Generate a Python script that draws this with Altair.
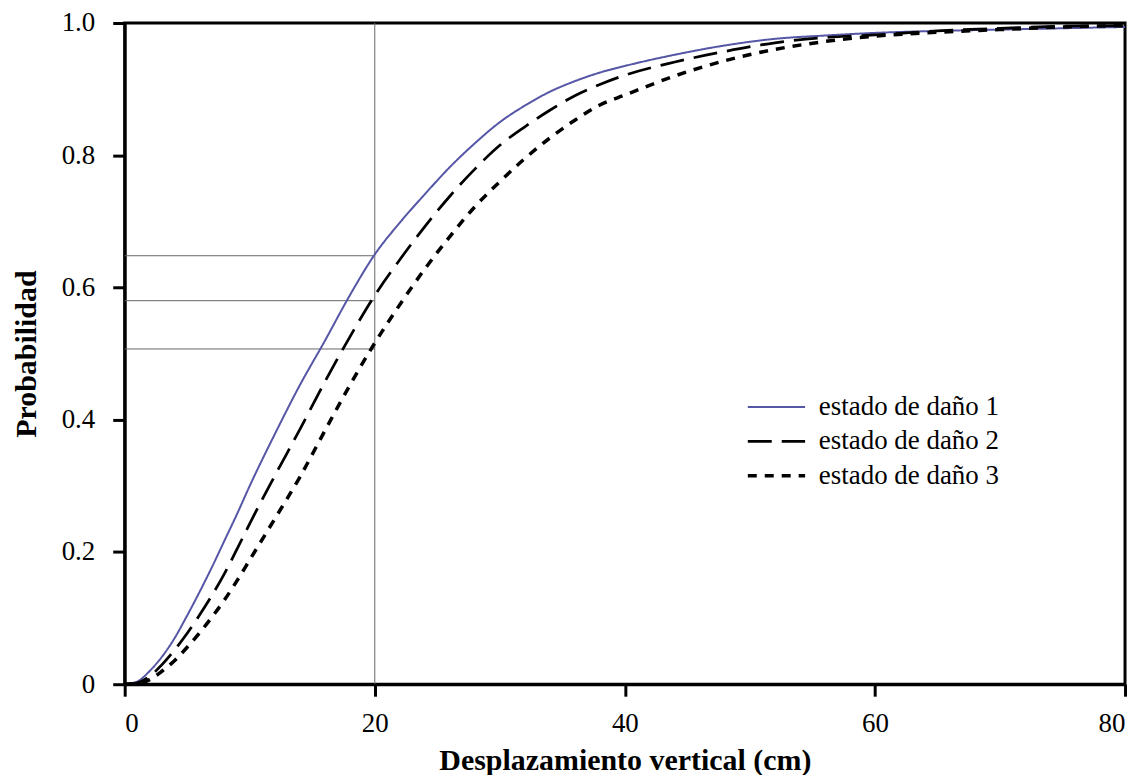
import altair as alt
import pandas as pd

# displacement (cm)
x_cm = [0, 1, 2, 3, 4, 5, 6, 7, 8, 9, 10, 12, 14, 16, 18, 20, 22, 24, 26, 28, 30,
        32, 34, 36, 38, 40, 44, 48, 52, 56, 60, 65, 70, 75, 80]
# damage state 1 (blue solid)
p1 = [0, 0.004, 0.02, 0.042, 0.07, 0.104, 0.14, 0.178, 0.218, 0.258, 0.300, 0.378, 0.452,
      0.519, 0.588, 0.65, 0.698, 0.741, 0.782, 0.818, 0.85, 0.875, 0.896, 0.912, 0.925,
      0.935, 0.952, 0.966, 0.976, 0.981, 0.985, 0.988, 0.990, 0.992, 0.994]
# damage state 2 (long dash)
p2 = [0, 0.002, 0.012, 0.03, 0.052, 0.077, 0.105, 0.135, 0.168, 0.205, 0.243, 0.315, 0.385,
      0.457, 0.525, 0.588, 0.642, 0.692, 0.738, 0.779, 0.815, 0.843, 0.868, 0.89, 0.907,
      0.921, 0.941, 0.957, 0.97, 0.978, 0.982, 0.988, 0.992, 0.995, 0.996]
# damage state 3 (short dash)
p3 = [0, 0.001, 0.007, 0.02, 0.036, 0.056, 0.078, 0.102, 0.128, 0.157, 0.188, 0.25, 0.313,
      0.383, 0.452, 0.516, 0.574, 0.628, 0.677, 0.722, 0.76, 0.795, 0.826, 0.853, 0.876,
      0.891, 0.92, 0.943, 0.96, 0.972, 0.98, 0.986, 0.99, 0.994, 0.996]

series = ["estado de daño 1", "estado de daño 2", "estado de daño 3"]

# reference lines
ref_x = 20
ref_p = [0.648, 0.58, 0.507]

rows = []
for name, vals in zip(series, [p1, p2, p3]):
    for xv, yv in zip(x_cm, vals):
        rows.append({"x": xv, "p": yv, "serie": name})
df = pd.DataFrame(rows)

FONT = "Liberation Serif"

xscale = alt.Scale(domain=[0, 80], nice=False, zero=False)
yscale = alt.Scale(domain=[0, 1], nice=False)

vline = alt.Chart(pd.DataFrame({"x": [ref_x], "y": [0], "y2": [1]})).mark_rule(
    color="#666666", strokeWidth=1
).encode(
    x=alt.X("x:Q", scale=xscale),
    y=alt.Y("y:Q", scale=yscale),
    y2="y2:Q",
)

hlines = alt.Chart(pd.DataFrame({"p": ref_p, "x0": [0] * 3, "x1": [ref_x] * 3})).mark_rule(
    color="#666666", strokeWidth=1
).encode(
    x=alt.X("x0:Q", scale=xscale),
    x2="x1:Q",
    y=alt.Y("p:Q", scale=yscale),
)

lines = alt.Chart(df).mark_line(interpolate="monotone").encode(
    x=alt.X("x:Q", scale=xscale,
            axis=alt.Axis(values=[0, 20, 40, 60, 80], title="Desplazamiento vertical (cm)")),
    y=alt.Y("p:Q", scale=yscale,
            axis=alt.Axis(values=[0, 0.2, 0.4, 0.6, 0.8, 1.0], title="Probabilidad",
                          labelExpr="datum.value == 0 ? '0' : format(datum.value, '.1f')")),
    color=alt.Color("serie:N", title=None,
                    scale=alt.Scale(domain=series, range=["#5656a6", "#000000", "#000000"]),
                    legend=alt.Legend(orient="none", legendX=623, legendY=370,
                                      symbolType="stroke", symbolSize=3300, clipHeight=30,
                                      labelFont=FONT, labelFontSize=27, labelColor="black",
                                      labelLimit=400, rowPadding=4.5, labelOffset=12)),
    strokeDash=alt.StrokeDash("serie:N", title=None,
                              scale=alt.Scale(domain=series, range=[[1, 0], [24, 10], [9, 8]])),
    strokeWidth=alt.StrokeWidth("serie:N", title=None,
                                scale=alt.Scale(domain=series, range=[2, 3.5, 3.5])),
    order=alt.Order("x:Q"),
)

chart = alt.layer(vline, hlines, lines).properties(
    width=1003, height=663,
    autosize=alt.AutoSizeParams(type="none"),
    padding={"left": 117, "top": 14, "right": 10, "bottom": 90},
).configure_view(
    stroke="black", strokeWidth=3
).configure_axis(
    grid=False,
    domainColor="black", domainWidth=3,
    tickColor="black", tickWidth=3, tickSize=12,
    labelFont=FONT, labelFontSize=27, labelColor="black",
    titleFont=FONT, titleFontSize=30, titleFontWeight="bold", titleColor="black",
).configure_axisX(
    labelPadding=14, titlePadding=10,
).configure_axisY(
    labelPadding=18, titlePadding=20,
)

chart.save("out.html", embed_options={"renderer": "svg", "actions": False})
